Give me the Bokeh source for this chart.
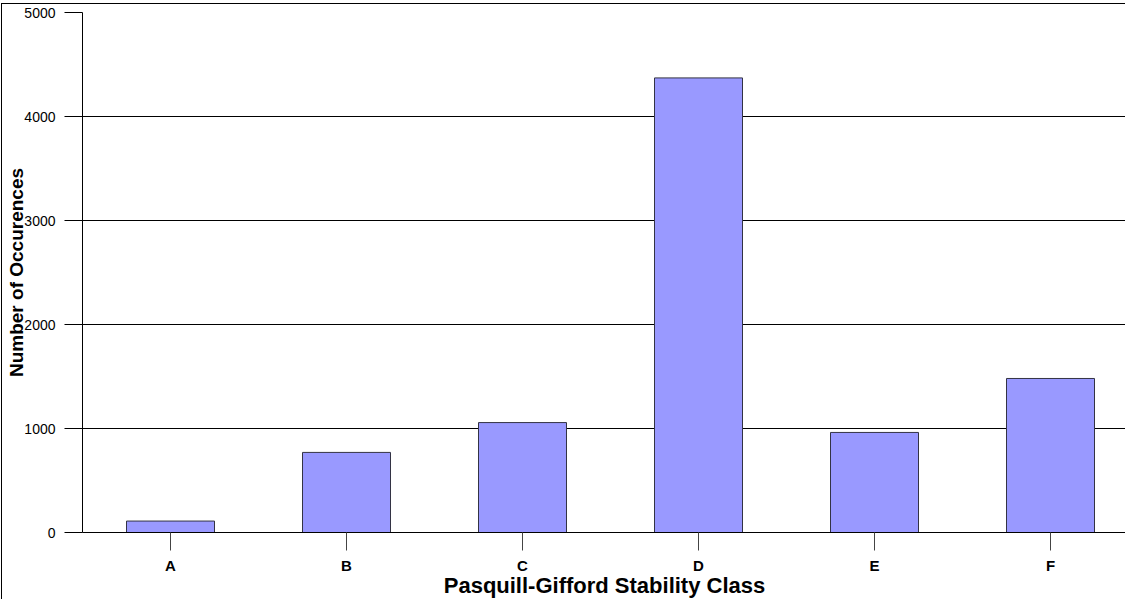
from bokeh.plotting import figure
from bokeh.models import Range1d, FixedTicker
from bokeh.embed import file_html
from bokeh.resources import INLINE
import numpy as np

categories = ["A", "B", "C", "D", "E", "F"]
occurrences = [110, 770, 1057, 4371, 962, 1481]
y_ticks = [0, 1000, 2000, 3000, 4000, 5000]

x_pos = (np.arange(len(categories)) + 0.5).tolist()

W, H = 1124, 596
LEFT = 80
slot_px = 176.0

p = figure(width=W, height=H, output_backend="svg", toolbar_location=None,
           x_range=Range1d(0, (W - LEFT) / slot_px), y_range=Range1d(0, 5000),
           min_border_left=LEFT, min_border_right=0, min_border_top=8,
           min_border_bottom=10,
           styles={"border-left": "1px solid black", "border-top": "1px solid black",
                   "margin-left": "1px", "margin-top": "3px"})

p.vbar(x=x_pos, top=occurrences, width=0.5, bottom=0,
       fill_color="#9999FF", line_color="#333344", line_width=1)

p.outline_line_color = None
p.background_fill_color = "white"
p.border_fill_color = "white"

# grids
p.xgrid.visible = False
p.ygrid.grid_line_color = "black"
p.ygrid.grid_line_width = 1
p.ygrid.ticker = FixedTicker(ticks=y_ticks)

# y axis
p.yaxis.ticker = FixedTicker(ticks=y_ticks)
p.yaxis.axis_line_color = "black"
p.yaxis.major_tick_line_color = "black"
p.yaxis.major_tick_out = 18
p.yaxis.major_tick_in = 0
p.yaxis.minor_tick_line_color = None
p.yaxis.major_label_text_font = "Liberation Sans"
p.yaxis.major_label_text_font_size = "14px"
p.yaxis.major_label_text_color = "black"
p.yaxis.major_label_standoff = 9
p.yaxis.axis_label = "Number of Occurences"
p.yaxis.axis_label_text_font = "Liberation Sans"
p.yaxis.axis_label_text_font_style = "bold"
p.yaxis.axis_label_text_font_size = "19px"
p.yaxis.axis_label_text_color = "black"
p.yaxis.axis_label_standoff = -6

# x axis
p.xaxis.ticker = FixedTicker(ticks=x_pos)
p.xaxis.major_label_overrides = {x: c for x, c in zip(x_pos, categories)}
p.xaxis.axis_line_color = "black"
p.xaxis.major_tick_line_color = "#444444"
p.xaxis.major_tick_out = 18
p.xaxis.major_tick_in = 0
p.xaxis.minor_tick_line_color = None
p.xaxis.major_label_text_font = "Liberation Sans"
p.xaxis.major_label_text_font_style = "bold"
p.xaxis.major_label_text_font_size = "15px"
p.xaxis.major_label_text_color = "black"
p.xaxis.major_label_standoff = 6
p.xaxis.axis_label = "Pasquill-Gifford Stability Class"
p.xaxis.axis_label_text_font = "Liberation Sans"
p.xaxis.axis_label_text_font_style = "bold"
p.xaxis.axis_label_text_font_size = "22px"
p.xaxis.axis_label_text_color = "black"
p.xaxis.axis_label_standoff = -4

open("out.html", "w").write(file_html(p, INLINE))
